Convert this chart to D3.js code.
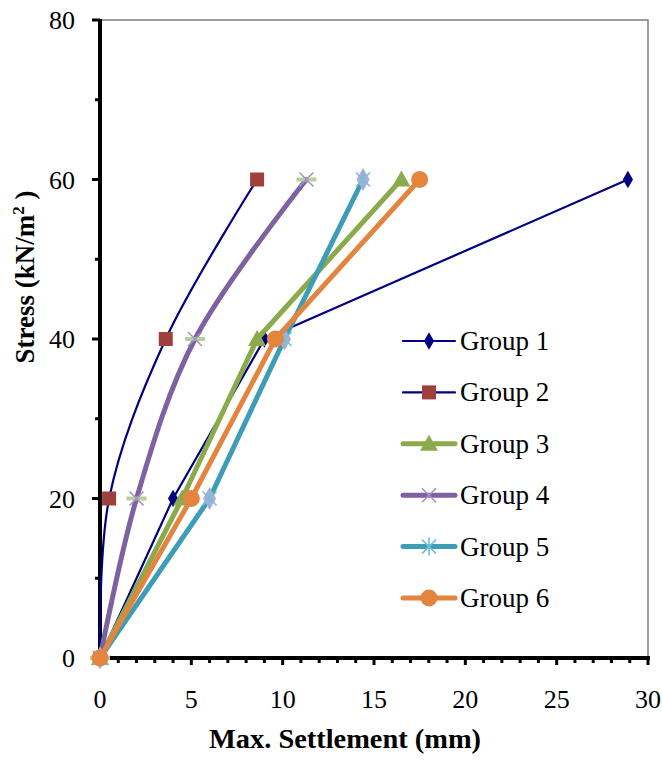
<!DOCTYPE html>
<html><head><meta charset="utf-8">
<script src="https://cdn.jsdelivr.net/npm/d3@7"></script>
<style>body{margin:0;background:#fff}svg{display:block}text{font-family:"Liberation Serif","Times New Roman",serif}</style>
</head><body>
<svg id="c" width="662" height="764"></svg>
<script>
const stress = [0, 20, 40, 60];
const group1 = [0, 4.0, 9.0, 28.9];
const group2 = [0, 0.5, 3.6, 8.6];
const group3 = [0, 4.5, 8.6, 16.5];
const group4 = [0, 2.0, 5.2, 11.3];
const group5 = [0, 6.0, 10.1, 14.4];
const group6 = [0, 5.0, 9.6, 17.5];
const seriesNames = ["Group 1","Group 2","Group 3","Group 4","Group 5","Group 6"];
const xTicks = [0,5,10,15,20,25,30];
const yTicks = [0,20,40,60,80];

const styles = [
  {line:"#000080", w:2.2, marker:"diamond", mcol:"#000080", smooth:false},
  {line:"#000080", w:2.2, marker:"square", mcol:"#A0403D", smooth:true},
  {line:"#8BAA4B", w:5, marker:"triangle", mcol:"#8BAA4B", smooth:false},
  {line:"#7D61A0", w:5, marker:"x", mcol:"#A590C6", smooth:true},
  {line:"#3D9DB6", w:5, marker:"star", mcol:"#6FC0D8", smooth:false},
  {line:"#E3853E", w:5, marker:"circle", mcol:"#E3853E", smooth:false}
];
const allX = [group1,group2,group3,group4,group5,group6];

const svg = d3.select("#c");
const x = d3.scaleLinear().domain([0,30]).range([100,648]);
const y = d3.scaleLinear().domain([0,80]).range([658,20]);

svg.append("path").attr("d",`M${x(0)},${y(80)}H${x(30)}V${y(0)}`).attr("fill","none").attr("stroke","#7f7f7f").attr("stroke-width",1.5);

const xMinor = d3.range(0,31,1);
const gx = svg.append("g");
gx.selectAll("line.t").data(xMinor).join("line")
  .attr("x1",d=>x(d)).attr("x2",d=>x(d)).attr("y1",y(0)).attr("y2",d=>y(0)+(d%5===0?7:5))
  .attr("stroke","#000").attr("stroke-width",3);
gx.append("line").attr("x1",x(0)-1).attr("x2",x(30)+2).attr("y1",y(0)).attr("y2",y(0)).attr("stroke","#000").attr("stroke-width",4);
gx.selectAll("text").data(xTicks).join("text")
  .attr("x",d=>x(d)).attr("y",708).attr("text-anchor","middle").attr("font-size",26).text(d=>d);

const yMinor = d3.range(0,81,10);
const gy = svg.append("g");
gy.selectAll("line.t").data(yMinor).join("line")
  .attr("x1",d=>x(0)-(d%20===0?8:5)).attr("x2",x(0)).attr("y1",d=>y(d)).attr("y2",d=>y(d))
  .attr("stroke","#000").attr("stroke-width",3);
gy.append("line").attr("x1",x(0)).attr("x2",x(0)).attr("y1",y(80)-1).attr("y2",y(0)+2).attr("stroke","#000").attr("stroke-width",4);
gy.selectAll("text").data(yTicks).join("text")
  .attr("x",75).attr("y",d=>y(d)+9).attr("text-anchor","end").attr("font-size",26).text(d=>d);

svg.append("text").attr("x",345).attr("y",748).attr("text-anchor","middle")
  .attr("font-size",27).attr("font-weight","bold")
  .attr("textLength",272).attr("lengthAdjust","spacingAndGlyphs").text("Max. Settlement (mm)");
const yt = svg.append("text").attr("transform","translate(34,277) rotate(-90)").attr("text-anchor","middle")
  .attr("font-size",27).attr("font-weight","bold");
yt.append("tspan").text("Stress (kN/m");
yt.append("tspan").attr("dy",-10).attr("font-size",17).text("2");
yt.append("tspan").attr("dy",10).text(" )");

function drawMarker(g, type, cx, cy, col, legend){
  if(type==="diamond"){
    g.append("path").attr("d",d3.symbol(d3.symbolDiamond,90)()).attr("transform",`translate(${cx},${cy})`).attr("fill",col);
  } else if(type==="square"){
    g.append("rect").attr("x",cx-7).attr("y",cy-7).attr("width",14).attr("height",14).attr("fill",col);
  } else if(type==="triangle"){
    g.append("path").attr("d",`M${cx},${cy-9}L${cx+9},${cy+7}L${cx-9},${cy+7}Z`).attr("fill",col);
  } else if(type==="circle"){
    g.append("circle").attr("cx",cx).attr("cy",cy).attr("r",8.5).attr("fill",col);
  } else if(type==="x"){
    if(!legend){
      g.append("line").attr("x1",cx-10).attr("x2",cx+10).attr("y1",cy).attr("y2",cy).attr("stroke","#B5D19A").attr("stroke-width",4);
    }
    g.append("path").attr("d",`M${cx-7},${cy-7}L${cx+7},${cy+7}M${cx-7},${cy+7}L${cx+7},${cy-7}`).attr("stroke",col).attr("stroke-width",1.6).attr("fill","none");
  } else if(type==="star"){
    if(!legend){
      g.append("path").attr("d",d3.symbol(d3.symbolDiamond,150)()).attr("transform",`translate(${cx},${cy})`).attr("fill","#B7A8D3");
    }
    g.append("path").attr("d",`M${cx-7},${cy-7}L${cx+7},${cy+7}M${cx-7},${cy+7}L${cx+7},${cy-7}M${cx},${cy-9}L${cx},${cy+9}`).attr("stroke",col).attr("stroke-width",1.6).attr("fill","none");
  }
}

const plot = svg.append("g");
allX.forEach((xs,i)=>{
  const st = styles[i];
  const pts = xs.map((v,j)=>[x(v), y(stress[j])]);
  const line = d3.line().curve(st.smooth ? d3.curveCatmullRom.alpha(0.5) : d3.curveLinear);
  plot.append("path").attr("d",line(pts)).attr("fill","none").attr("stroke",st.line)
    .attr("stroke-width",st.w).attr("stroke-linejoin","round").attr("stroke-linecap","round");
  const mg = plot.append("g");
  pts.forEach(p=>drawMarker(mg, st.marker, p[0], p[1], st.mcol, false));
});

const legY = d3.scaleLinear().domain([0,5]).range([341,598]);
const leg = svg.append("g");
seriesNames.forEach((n,i)=>{
  const st = styles[i];
  const yy = legY(i);
  leg.append("line").attr("x1",403).attr("x2",455).attr("y1",yy).attr("y2",yy)
    .attr("stroke",st.line).attr("stroke-width",st.w).attr("stroke-linecap","round");
  drawMarker(leg, st.marker, 429, yy, st.mcol, true);
  leg.append("text").attr("x",460).attr("y",yy+9).attr("font-size",27).text(n);
});
</script>
</body></html>
